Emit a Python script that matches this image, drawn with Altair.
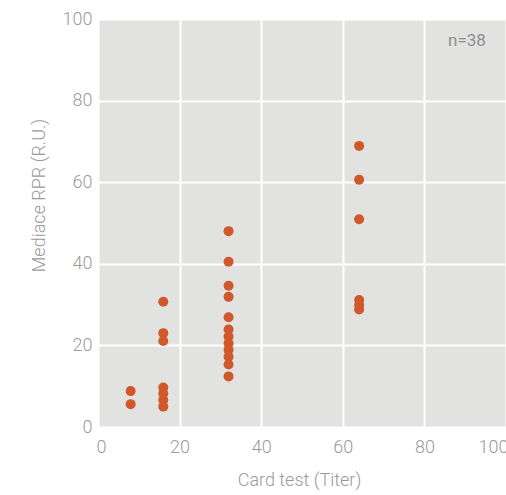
import altair as alt
import pandas as pd

# Card test titer vs. median RPR (R.U.)
titer_8 = [8, 8]
rpr_8 = [8.8, 5.6]

titer_16 = [16, 16, 16, 16, 16, 16, 16]
rpr_16 = [30.7, 23.0, 21.1, 9.7, 8.2, 6.6, 5.0]

titer_32 = [32] * 12
rpr_32 = [48.0, 40.5, 34.6, 31.9, 26.9, 23.9, 22.2, 20.5, 18.9, 17.2, 15.3, 12.4]

titer_64 = [64] * 6
rpr_64 = [68.9, 60.6, 50.9, 31.1, 29.9, 28.8]

x_ticks = [0, 20, 40, 60, 80, 100]
y_ticks = [0, 20, 40, 60, 80, 100]
count_label = "n=38"

df = pd.DataFrame({
    "titer": titer_8 + titer_16 + titer_32 + titer_64,
    "rpr": rpr_8 + rpr_16 + rpr_32 + rpr_64,
})

FONT = "Roboto"
LABEL_COLOR = "#9b9b9b"

points = alt.Chart(df).mark_circle(size=100, color="#d0582a", opacity=1).encode(
    x=alt.X(
        "titer:Q",
        scale=alt.Scale(domain=[0, 100], nice=False, zero=True),
        axis=alt.Axis(
            values=x_ticks,
            title="Card test (Titer)",
            titleX=201,
            titleY=58,
            titleBaseline="alphabetic",
            labelPadding=11,
            labelFlushOffset=2,
        ),
    ),
    y=alt.Y(
        "rpr:Q",
        scale=alt.Scale(domain=[0, 100], nice=False),
        axis=alt.Axis(
            values=y_ticks,
            title="Mediace RPR (R.U.)",
            titleX=-54,
            titleY=176,
            titleBaseline="alphabetic",
            labelPadding=6,
        ),
    ),
)

note = alt.Chart(pd.DataFrame({"t": [count_label]})).mark_text(
    font=FONT, fontSize=17, color="#8e8e8e", align="center", baseline="alphabetic"
).encode(x=alt.value(369), y=alt.value(27), text="t:N")

chart = (
    (points + note)
    .properties(
        width=408,
        height=408,
        padding={"left": 98, "top": 19, "right": 0, "bottom": 68},
        autosize=alt.AutoSizeParams(type="none"),
        background="white",
    )
    .configure_view(fill="#e2e2e1", stroke=None)
    .configure_axis(
        grid=True,
        gridColor="white",
        gridWidth=2,
        domain=False,
        ticks=False,
        labelFont=FONT,
        labelFontSize=18,
        labelColor=LABEL_COLOR,
        labelFontWeight=300,
        titleFont=FONT,
        titleFontSize=18,
        titleFontWeight=300,
        titleColor=LABEL_COLOR,
    )
)

chart.save("out.html", embed_options={"renderer": "svg", "actions": False})
